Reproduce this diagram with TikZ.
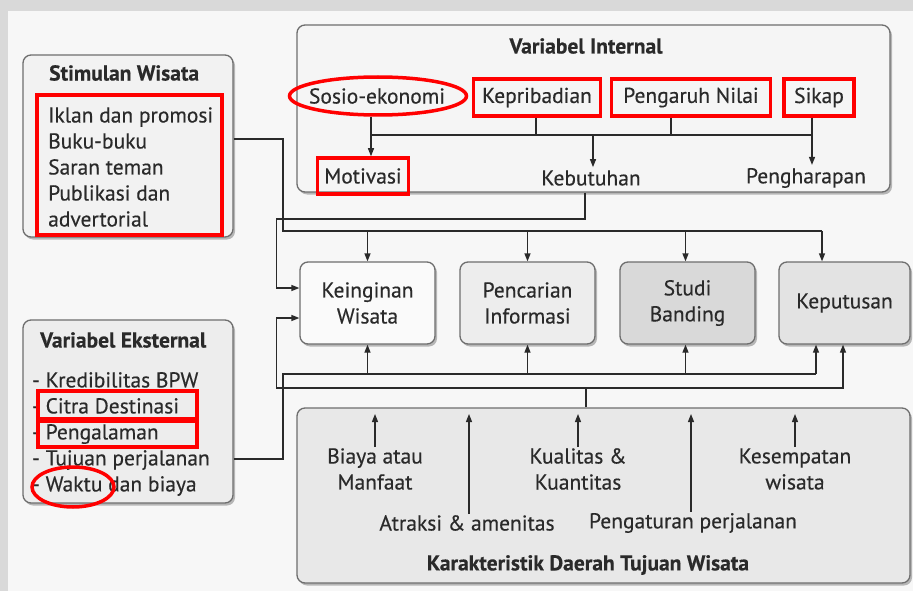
\documentclass[tikz,border=0pt]{standalone}
\usepackage{fontspec}
\setmainfont{PT Sans}[FakeBold=0.35]
\usetikzlibrary{arrows.meta,shadows,shapes.geometric}
\definecolor{outerbg}{HTML}{D9D9D9}
\definecolor{innerbg}{HTML}{F7F7F7}
\definecolor{edge}{HTML}{6E6E6E}
\definecolor{ink}{HTML}{2A2A2A}
\definecolor{mark}{HTML}{FF0000}
\begin{document}
\begin{tikzpicture}[x=1pt,y=-1pt,
  panel/.style={draw=edge, line width=1.3pt, rounded corners=8pt,
    drop shadow={shadow xshift=2pt, shadow yshift=-2.5pt, fill=black!45, opacity=0.6}},
  txt/.style={font=\fontsize{21.5}{26}\selectfont, text=ink, inner sep=1pt, align=center},
  ttl/.style={txt, font=\fontsize{21.5}{26}\selectfont\bfseries},
  redbox/.style={txt, draw=mark, line width=3.5pt, inner sep=0pt},
  redring/.style={draw=mark, line width=3.5pt, ellipse, inner sep=0pt},
  conn/.style={draw=ink, line width=1.3pt},
  tip/.style={-{Triangle[length=8pt,width=6pt]}}
]
\useasboundingbox (0,0) rectangle (913,591);
\fill[outerbg] (0,0) rectangle (913,591);
\fill[innerbg] (8,11) rectangle (913,591);

% ---------- panels ----------
\node[panel, fill=black!4, minimum width=593pt, minimum height=167pt] (vi) at (593.5,108.5) {};
\node[panel, fill=black!5, minimum width=210pt, minimum height=182pt] (stim) at (128,146) {};
\node[panel, fill=black!7, minimum width=210pt, minimum height=183pt] (vek) at (128,411.5) {};
\node[panel, fill=black!9, minimum width=613pt, minimum height=175pt] (kar) at (603.5,495.5) {};

\node[panel, fill=black!2, minimum width=135pt, minimum height=82pt, txt] (kw) at (367.5,303) {Keinginan\\Wisata};
\node[panel, fill=black!7, minimum width=135pt, minimum height=82pt, txt] (pi) at (527.5,303) {Pencarian\\Informasi};
\node[panel, fill=black!15, minimum width=135pt, minimum height=82pt, txt] (sb) at (687.5,303) {Studi\\Banding};
\node[panel, fill=black!11, minimum width=131pt, minimum height=82pt, txt] (kp) at (844.5,303) {Keputusan};

% ---------- Variabel Internal ----------
\node[ttl] (vititle) at (586,46) {Variabel Internal};
\node[txt] (sosio) at (377,96) {Sosio-ekonomi};
\node[redring, minimum width=177pt, minimum height=38pt] (sosior) at (378,96) {};
\node[redbox, minimum width=127pt, minimum height=37pt] (kepri) at (537,97.5) {Kepribadian};
\node[redbox, minimum width=159pt, minimum height=37pt] (peng) at (691,97.5) {Pengaruh Nilai};
\node[redbox, minimum width=70pt, minimum height=37pt] (sikap) at (819,97.5) {Sikap};
\node[redbox, minimum width=91pt, minimum height=36pt] (moti) at (363,176) {Motivasi};
\node[txt] (kebut) at (591,178) {Kebutuhan};
\node[txt] (harap) at (806,178) {Pengharapan};

\coordinate (bs) at (371,135);
\coordinate (bk) at (536,135);
\coordinate (bn) at (671,135);
\coordinate (bsk) at (812,135);
\coordinate (bkb) at (593,135);
\draw[conn] (bs) -- (bsk);
\draw[conn, tip] (bs |- sosior.south) -- (bs |- moti.north);
\draw[conn] (bk |- kepri.south) -- (bk);
\draw[conn] (bn |- peng.south) -- (bn);
\draw[conn, tip] (bsk |- sikap.south) -- ([yshift=2pt]bsk |- harap.north);
\draw[conn, tip] (bkb) -- ([yshift=2pt]bkb |- kebut.north);

% ---------- Stimulan Wisata ----------
\node[ttl, anchor=west] (sttitle) at (48,73) {Stimulan Wisata};
\node[redbox, minimum width=185pt, minimum height=140pt] (stlist) at (129.5,165) {};
\node[txt, anchor=west, align=left] (stitems) at (47,167) {Iklan dan promosi\\Buku-buku\\Saran teman\\Publikasi dan\\advertorial};

% ---------- Variabel Eksternal ----------
\node[ttl, anchor=west] (vetitle) at (39,340) {Variabel Eksternal};
\node[txt, anchor=west, align=left] (veitems) at (31,434) {- Kredibilitas BPW\\- Citra Destinasi\\- Pengalaman\\- Tujuan perjalanan\\- Waktu dan biaya};
\node[draw=mark, line width=3.5pt, minimum width=159pt, minimum height=28pt] (rcitra) at (117.5,405) {};
\node[draw=mark, line width=3.5pt, minimum width=159pt, minimum height=26pt] (rpeng) at (117.5,434) {};
\node[redring, minimum width=82pt, minimum height=40pt] (rwaktu) at (73,487) {};

% ---------- Karakteristik ----------
\node[txt] (biaya) at (375,469) {Biaya atau\\Manfaat};
\node[txt] (kual) at (578,469) {Kualitas \&\\Kuantitas};
\node[txt] (kesem) at (795,469) {Kesempatan\\wisata};
\node[txt] (atr) at (467,523) {Atraksi \& amenitas};
\node[txt] (atur) at (693,523) {Pengaturan perjalanan};
\node[ttl] (kartitle) at (588,565) {Karakteristik Daerah Tujuan Wisata};

\coordinate (ktop) at (0,414);
\draw[conn, tip] (biaya.north) -- (biaya.north |- ktop);
\draw[conn, tip] (kual.north) -- (kual.north |- ktop);
\draw[conn, tip] (kesem.north) -- (kesem.north |- ktop);
\coordinate (xa) at (469,0);
\coordinate (xp) at (691,0);
\draw[conn, tip] (xa |- atr.north) -- (xa |- ktop);
\draw[conn, tip] (xp |- atur.north) -- (xp |- ktop);

% ---------- connectors between panels ----------
\coordinate (k1) at (585,219);
\coordinate (kwa) at ([yshift=15pt]kw.west);
\coordinate (kwb) at ([yshift=-15pt]kw.west);
\draw[conn, tip] (vi.south -| k1) -- (k1) -| ([xshift=-23pt]kwa) -- (kwa);

\coordinate (s1) at (283,231);
\coordinate (sr) at (822,231);
\draw[conn] ([yshift=7pt]stim.east) -| (s1) -- (sr);
\draw[conn, tip] (kw.north |- s1) -- (kw.north);
\draw[conn, tip] (pi.north |- s1) -- (pi.north);
\draw[conn, tip] ([xshift=-2pt]sb.north |- s1) -- ([xshift=-2pt]sb.north);
\draw[conn, tip] (sr) -- (sr |- kp.north);

\coordinate (e1) at (283,374);
\coordinate (er) at (816,374);
\draw[conn] ([yshift=-47.5pt]vek.east) -| (e1) -- (er);
\draw[conn, tip] (kw.south |- e1) -- (kw.south);
\draw[conn, tip] (pi.south |- e1) -- (pi.south);
\draw[conn, tip] ([xshift=-2pt]sb.south |- e1) -- ([xshift=-2pt]sb.south);
\draw[conn, tip] (er) -- (er |- kp.south);

\coordinate (c1) at (586,388);
\draw[conn] (kar.north -| c1) -- (c1);
\draw[conn, tip] (c1) -| ([xshift=-23pt]kwb) -- (kwb);
\draw[conn, tip] (c1) -| ([xshift=-1.5pt]kp.south);
\end{tikzpicture}
\end{document}
